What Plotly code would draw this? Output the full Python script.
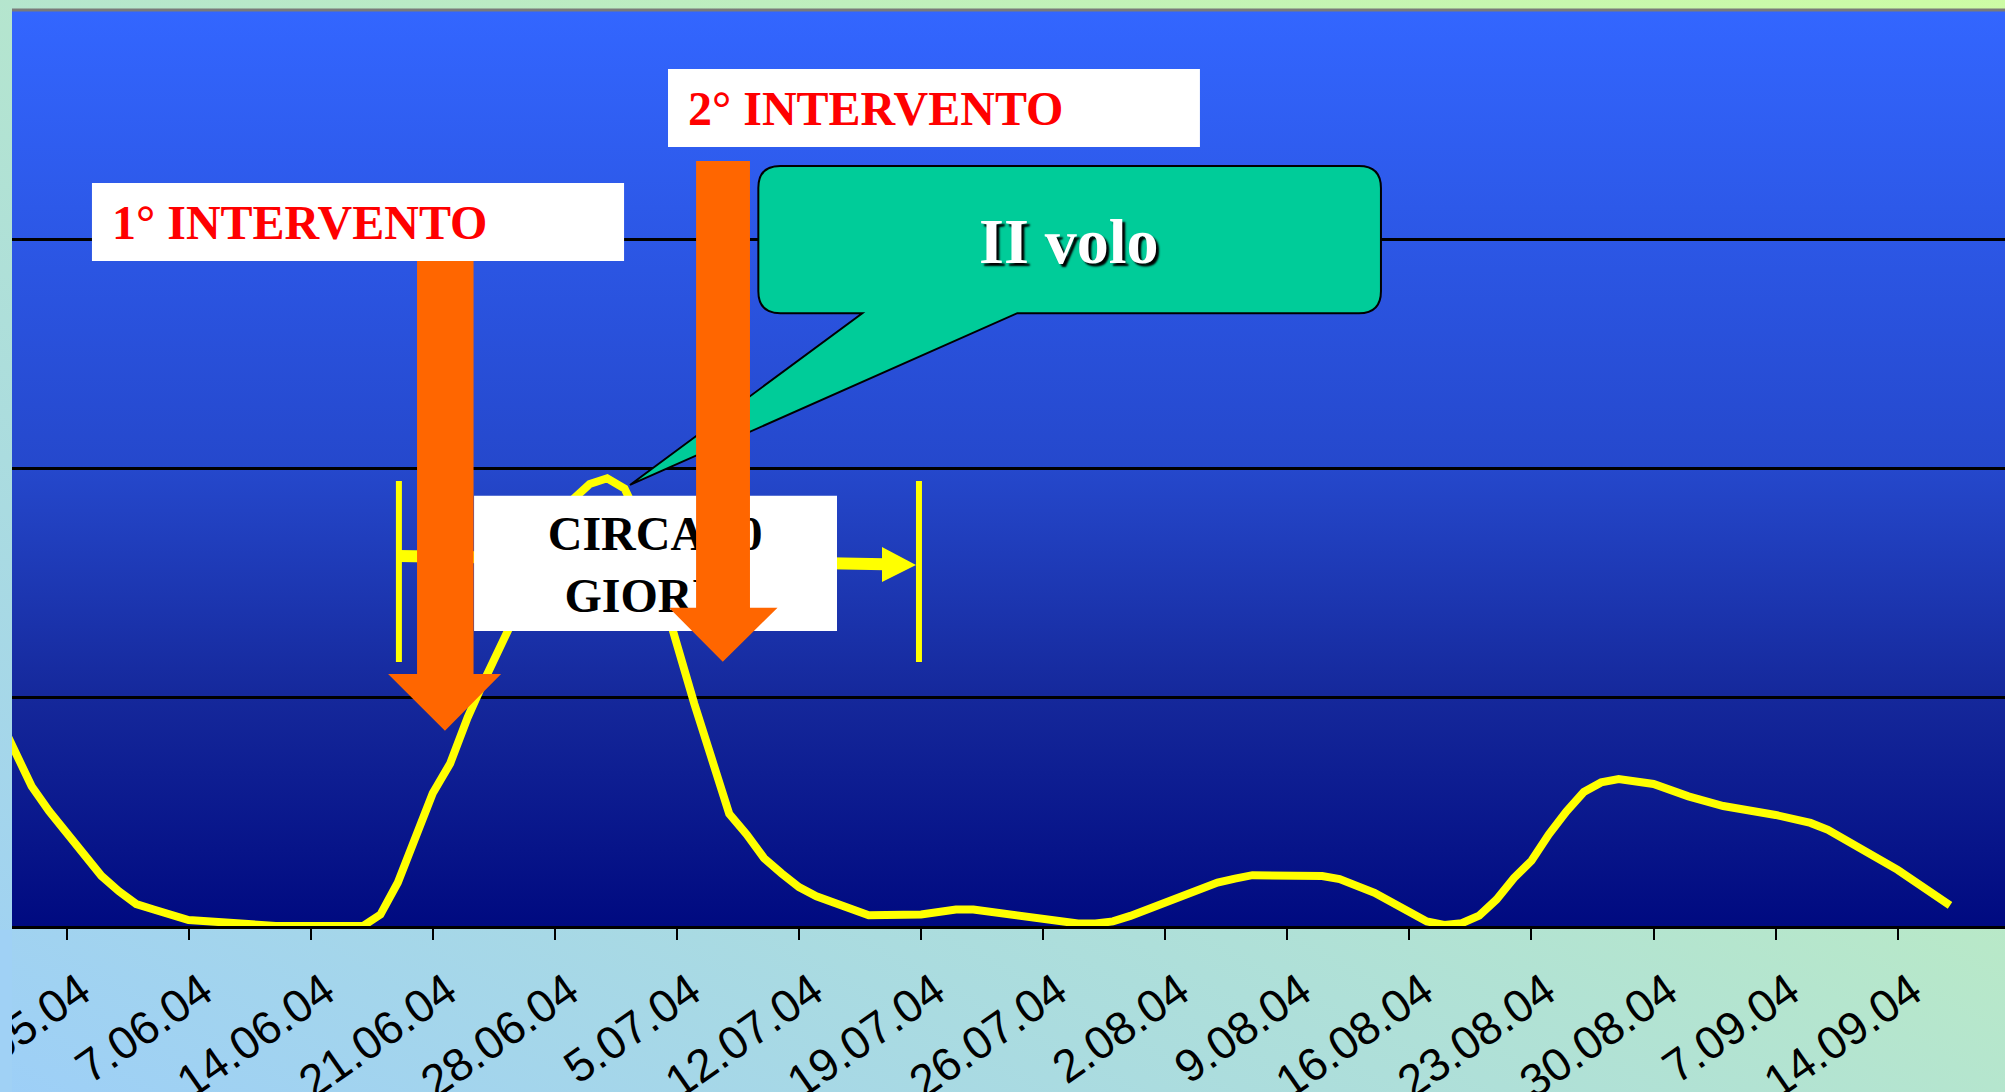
import base64
import plotly.graph_objects as go

# ---------------- data (x = days since 31.05.04) ----------------
tick_labels = ["31.05.04", "7.06.04", "14.06.04", "21.06.04", "28.06.04", "5.07.04",
               "12.07.04", "19.07.04", "26.07.04", "2.08.04", "9.08.04", "16.08.04",
               "23.08.04", "30.08.04", "7.09.04", "14.09.04"]
tick_days = [0, 7, 14, 21, 28, 35, 42, 49, 56, 63, 70, 77, 84, 91, 98, 105]

days = [-4, -3, -2, -1, 0, 1, 2, 3, 4, 5, 7, 10, 12, 17, 18, 19, 20, 21, 22, 23, 24, 25,
        26, 27, 28, 29, 30, 31, 32, 33, 34, 35, 36, 37, 38, 39, 40, 41, 42, 43, 44, 45,
        46, 49, 51, 52, 58, 59, 60, 61, 63, 65, 66, 67, 68, 72, 73, 75, 77, 78, 79, 80,
        81, 82, 83, 84, 85, 86, 87, 88, 89, 91, 93, 95, 98, 100, 101, 103, 105, 108]
values = [0.93, 0.763, 0.61, 0.502, 0.404, 0.307, 0.219, 0.152, 0.096, 0.072, 0.026,
          0.011, 0.0, 0.0, 0.05, 0.19, 0.39, 0.58, 0.71, 0.91, 1.08, 1.24,
          1.42, 1.57, 1.72, 1.86, 1.93, 1.955, 1.91, 1.75, 1.48, 1.23, 0.97, 0.73, 0.49,
          0.40, 0.296, 0.23, 0.17, 0.13, 0.105, 0.075, 0.047, 0.05, 0.072, 0.072, 0.011,
          0.011, 0.02, 0.044, 0.10, 0.165, 0.19, 0.207, 0.222, 0.218, 0.205, 0.145, 0.055,
          0.02, 0.005, 0.012, 0.045, 0.116, 0.21, 0.285, 0.40, 0.50, 0.585, 0.627, 0.642,
          0.62, 0.566, 0.524, 0.485, 0.45, 0.42, 0.335, 0.245, 0.09]

# ---------------- colours / fonts ----------------
YELLOW = "#FFFF00"
ORANGE = "#FF6600"
CALLOUT = "#00CC99"
SERIF = "Liberation Serif, Times New Roman, serif"
SANS = "Liberation Sans, Arial, sans-serif"


def svg_uri(svg):
    return "data:image/svg+xml;base64," + base64.b64encode(svg.encode()).decode()


page_bg = svg_uri(
    '<svg xmlns="http://www.w3.org/2000/svg" width="100" height="100" viewBox="0 0 100 100" '
    'preserveAspectRatio="none"><defs><linearGradient id="g" x1="0" y1="1" x2="1" y2="0">'
    '<stop offset="0" stop-color="#9dcff7"/><stop offset="1" stop-color="#cdfca5"/>'
    '</linearGradient></defs><rect width="100" height="100" fill="url(#g)"/></svg>')
plot_bg = svg_uri(
    '<svg xmlns="http://www.w3.org/2000/svg" width="100" height="100" viewBox="0 0 100 100" '
    'preserveAspectRatio="none"><defs><linearGradient id="p" x1="0" y1="0" x2="0" y2="1">'
    '<stop offset="0" stop-color="#3366ff"/><stop offset="0.5" stop-color="#2548cc"/>'
    '<stop offset="0.75" stop-color="#15289b"/><stop offset="1" stop-color="#000a80"/>'
    '</linearGradient></defs><rect width="100" height="100" fill="url(#p)"/></svg>')

W, H = 2005, 1092
ML, MR, MT, MB = 12, 0, 10, 166
PW, PH = W - ML - MR, H - MT - MB

fig = go.Figure()

# data line
fig.add_trace(go.Scatter(x=days, y=values, mode="lines",
                         line=dict(color=YELLOW, width=8), hoverinfo="skip"))

# "circa 30 giorni" bracket (yellow)
fig.add_trace(go.Scatter(x=[19.06, 19.06], y=[1.943, 1.153], mode="lines",
                         line=dict(color=YELLOW, width=6), hoverinfo="skip"))
fig.add_trace(go.Scatter(x=[48.88, 48.88], y=[1.943, 1.153], mode="lines",
                         line=dict(color=YELLOW, width=6), hoverinfo="skip"))
fig.add_trace(go.Scatter(x=[19.06, 46.9], y=[1.616, 1.58], mode="lines",
                         line=dict(color=YELLOW, width=12), hoverinfo="skip"))
fig.add_trace(go.Scatter(x=[46.76, 48.71, 46.76, 46.76], y=[1.655, 1.576, 1.502, 1.655],
                         mode="lines", fill="toself", fillcolor=YELLOW,
                         line=dict(color=YELLOW, width=0), hoverinfo="skip"))

# white box + text (drawn as traces so the orange arrow can overlap them)
fig.add_trace(go.Scatter(x=[23.37, 44.18, 44.18, 23.37, 23.37],
                         y=[1.879, 1.879, 1.288, 1.288, 1.879],
                         mode="lines", fill="toself", fillcolor="white",
                         line=dict(color="white", width=0), hoverinfo="skip"))
fig.add_trace(go.Scatter(x=[33.75], y=[1.56], mode="text", text=["<b>CIRCA 30<br>GIORNI</b>"],
                         textposition="middle center",
                         textfont=dict(family=SERIF, size=48, color="black"),
                         hoverinfo="skip"))

# callout "II volo" (rounded rectangle with tail)
x0, x1, yt, yb = 39.67, 75.37, 3.319, 2.676
rx, ry = 1.26, 0.096
tl, tr, tipx, tipy = 45.63, 54.52, 32.31, 1.926
callout_path = (f"M {x0+rx},{yt} L {x1-rx},{yt} Q {x1},{yt} {x1},{yt-ry} "
                f"L {x1},{yb+ry} Q {x1},{yb} {x1-rx},{yb} L {tr},{yb} L {tipx},{tipy} "
                f"L {tl},{yb} L {x0+rx},{yb} Q {x0},{yb} {x0},{yb+ry} L {x0},{yt-ry} "
                f"Q {x0},{yt} {x0+rx},{yt} Z")
shapes = [dict(type="path", xref="x", yref="y", path=callout_path,
               fillcolor=CALLOUT, line=dict(color="black", width=2), layer="above")]


def arrow(xl, xr, ytop, ybase, hl, hr, tx, ty):
    return (f"M {xl},{ytop} L {xr},{ytop} L {xr},{ybase} L {hr},{ybase} L {tx},{ty} "
            f"L {hl},{ybase} L {xl},{ybase} Z")


shapes.append(dict(type="path", xref="x", yref="y", layer="above",
                   path=arrow(20.10, 23.34, 2.93, 1.100, 18.44, 24.92, 21.70, 0.853),
                   fillcolor=ORANGE, line=dict(width=0)))
shapes.append(dict(type="path", xref="x", yref="y", layer="above",
                   path=arrow(36.10, 39.19, 3.341, 1.390, 34.55, 40.77, 37.63, 1.154),
                   fillcolor=ORANGE, line=dict(width=0)))
# white label boxes
shapes.append(dict(type="rect", xref="x", yref="y", x0=1.46, x1=31.97, y0=2.904, y1=3.245,
                   fillcolor="white", line=dict(width=0), layer="above"))
shapes.append(dict(type="rect", xref="x", yref="y", x0=34.49, x1=64.99, y0=3.402, y1=3.742,
                   fillcolor="white", line=dict(width=0), layer="above"))
# grey top border of the plot area
shapes.append(dict(type="line", xref="paper", yref="paper", x0=0, x1=1, y0=1, y1=1,
                   line=dict(color="#7a7a7a", width=3), layer="above"))
# left strip clipping the first tick label like the reference
shapes.append(dict(type="rect", xref="paper", yref="paper", x0=-ML / PW, x1=0,
                   y0=-MB / PH, y1=-0.004, fillcolor="#a0d1f5", line=dict(width=0),
                   layer="above"))

annotations = [
    dict(x=2.5, y=3.074, xref="x", yref="y", xanchor="left", yanchor="middle",
         text="<b>1° INTERVENTO</b>", showarrow=False,
         font=dict(family=SERIF, size=48, color="#FF0000")),
    dict(x=35.5, y=3.569, xref="x", yref="y", xanchor="left", yanchor="middle",
         text="<b>2° INTERVENTO</b>", showarrow=False,
         font=dict(family=SERIF, size=48, color="#FF0000")),
    dict(x=57.49, y=2.991, xref="x", yref="y", xanchor="center", yanchor="middle",
         text="<b>II volo</b>", showarrow=False,
         font=dict(family=SERIF, size=64, color="white", shadow="3px 3px 2px #000000")),
]

images = [
    dict(source=page_bg, xref="paper", yref="paper", x=-ML / PW, y=1 + MT / PH,
         sizex=W / PW, sizey=H / PH, sizing="stretch", xanchor="left", yanchor="top",
         layer="below"),
    dict(source=plot_bg, xref="paper", yref="paper", x=0, y=1, sizex=1, sizey=1,
         sizing="stretch", xanchor="left", yanchor="top", layer="below"),
]

fig.update_layout(
    template="none",
    width=W, height=H,
    margin=dict(l=ML, r=MR, t=MT, b=MB, pad=0),
    paper_bgcolor="#b4e4d0",
    plot_bgcolor="rgba(0,0,0,0)",
    showlegend=False,
    hovermode=False,
    shapes=shapes,
    annotations=annotations,
    images=images,
    xaxis=dict(range=[(ML - 66.5) / 17.44, (W - 66.5) / 17.44], tickmode="array",
               tickvals=tick_days, ticktext=tick_labels, tickangle=-35,
               ticks="outside", ticklen=11, tickwidth=2, tickcolor="black",
               showline=True, linecolor="black", linewidth=3, showgrid=False,
               zeroline=False, automargin=False, ticklabeloverflow="allow",
               ticklabelshift=14, ticklabelstandoff=6,
               tickfont=dict(family=SANS, size=46, color="black")),
    yaxis=dict(range=[0, 4], tick0=0, dtick=1, showgrid=True, gridcolor="black",
               gridwidth=2.5, showticklabels=False, ticks="", showline=False,
               zeroline=False, automargin=False),
)

fig.write_html("out.html")
